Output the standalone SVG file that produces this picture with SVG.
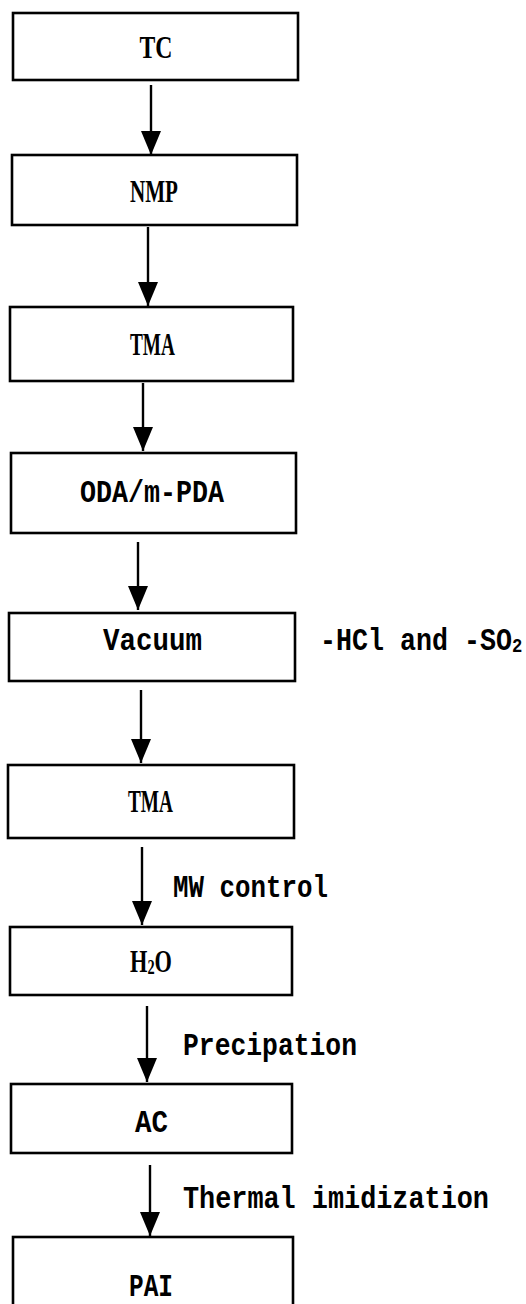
<svg xmlns="http://www.w3.org/2000/svg" width="526" height="1304" viewBox="0 0 526 1304">
<style>
.box{fill:#fff;stroke:#000;stroke-width:2.6}
.ser{font-family:"Liberation Serif","Times New Roman",serif;font-weight:bold;font-size:31px;fill:#000;text-anchor:middle}
.mono{font-family:"Liberation Mono","DejaVu Sans Mono",monospace;font-weight:bold;font-size:31px;fill:#000;text-anchor:middle}
.lab{font-family:"Liberation Mono","DejaVu Sans Mono",monospace;font-weight:bold;font-size:31px;fill:#000}
.arr{stroke:#000;stroke-width:2.4;fill:none;marker-end:url(#ah)}
</style>
<defs>
<marker id="ah" markerUnits="userSpaceOnUse" viewBox="0 -11 24 22" markerWidth="24" markerHeight="22" refX="24" refY="0" orient="auto">
<path d="M0,-10 L24,0 L0,10 Z" fill="#000"/>
</marker>
</defs>
<rect width="526" height="1304" fill="#fff"/>
<g id="connectors">
<line class="arr" x1="151" y1="85" x2="151" y2="155"/>
<line class="arr" x1="148" y1="227" x2="148" y2="306"/>
<line class="arr" x1="143" y1="383" x2="143" y2="451"/>
<line class="arr" x1="138" y1="542" x2="138" y2="610"/>
<line class="arr" x1="141" y1="690" x2="141" y2="763"/>
<line class="arr" x1="142" y1="847" x2="142" y2="925"/>
<line class="arr" x1="147" y1="1006" x2="147" y2="1082"/>
<line class="arr" x1="150" y1="1165" x2="150" y2="1236"/>
<text class="lab" x="173" y="897" textLength="155" lengthAdjust="spacingAndGlyphs">MW control</text>
<text class="lab" x="183" y="1055" textLength="174" lengthAdjust="spacingAndGlyphs">Precipation</text>
<text class="lab" transform="translate(183,1208) scale(0.866,1)">Thermal imidization</text>
</g>
<g id="n1"><rect class="box" x="13" y="13" width="285" height="67"/><text class="ser" x="156" y="58" textLength="33" lengthAdjust="spacingAndGlyphs">TC</text></g>
<g id="n2"><rect class="box" x="12" y="155" width="285" height="70"/><text class="ser" x="154" y="202" textLength="48" lengthAdjust="spacingAndGlyphs">NMP</text></g>
<g id="n3"><rect class="box" x="10" y="307" width="283" height="74"/><text class="ser" x="152.5" y="355" textLength="45" lengthAdjust="spacingAndGlyphs">TMA</text></g>
<g id="n4"><rect class="box" x="11" y="453" width="285" height="80"/><text class="mono" x="152" y="502" textLength="144" lengthAdjust="spacingAndGlyphs">ODA/m-PDA</text></g>
<g id="n5"><rect class="box" x="9" y="613" width="286" height="68"/><text class="mono" x="152.5" y="650" textLength="99" lengthAdjust="spacingAndGlyphs">Vacuum</text>
<text class="lab" transform="translate(320,650) scale(0.86,1)">-HCl and -SO<tspan font-size="20" dy="2">2</tspan></text></g>
<g id="n6"><rect class="box" x="8" y="765" width="286" height="73"/><text class="ser" x="150.5" y="812" textLength="45" lengthAdjust="spacingAndGlyphs">TMA</text></g>
<g id="n7"><rect class="box" x="10" y="927" width="282" height="68"/><text class="ser" transform="translate(151,972) scale(0.72,1)">H<tspan font-size="20" dy="2">2</tspan><tspan dy="-2">O</tspan></text></g>
<g id="n8"><rect class="box" x="11" y="1084" width="281" height="69"/><text class="mono" x="151.5" y="1132" textLength="33" lengthAdjust="spacingAndGlyphs">AC</text></g>
<g id="n9"><rect class="box" x="13" y="1237" width="280" height="70"/><text class="mono" x="151" y="1296" textLength="44" lengthAdjust="spacingAndGlyphs">PAI</text></g>
</svg>
